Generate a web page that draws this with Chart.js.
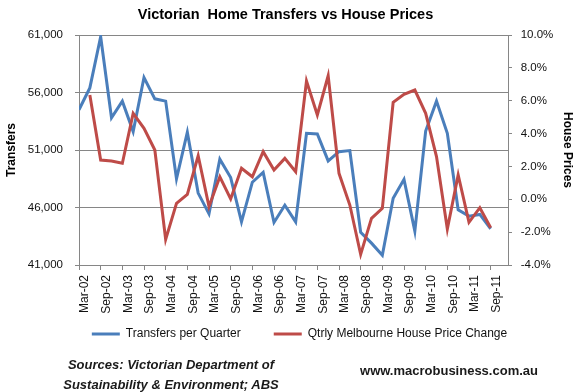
<!DOCTYPE html>
<html>
<head>
<meta charset="utf-8">
<script src="https://cdn.jsdelivr.net/npm/chart.js@4.4.0/dist/chart.umd.min.js"></script>
<style>
  html, body { margin: 0; padding: 0; background: #fff; }
  #wrap { position: relative; width: 585px; height: 392px; }
  #chart { position: absolute; left: 0; top: 0; }
  .note { position: absolute; font-family: "Liberation Sans", Arial, sans-serif; font-size: 13px; font-weight: bold; color: #1a1a1a; text-align: center; }
  #sources { left: 36px; top: 355px; width: 270px; line-height: 19.5px; font-style: italic; }
  #site { left: 339px; top: 362px; width: 220px; line-height: 17px; }
</style>
</head>
<body>
<div id="wrap">
  <canvas id="chart" width="585" height="392"></canvas>
  <div class="note" id="sources">Sources: Victorian Department of<br>Sustainability &amp; Environment; ABS</div>
  <div class="note" id="site">www.macrobusiness.com.au</div>
</div>
<script>
const quarters = [
  "Mar-02", "Jun-02", "Sep-02", "Dec-02", "Mar-03", "Jun-03", "Sep-03", "Dec-03",
  "Mar-04", "Jun-04", "Sep-04", "Dec-04", "Mar-05", "Jun-05", "Sep-05", "Dec-05",
  "Mar-06", "Jun-06", "Sep-06", "Dec-06", "Mar-07", "Jun-07", "Sep-07", "Dec-07",
  "Mar-08", "Jun-08", "Sep-08", "Dec-08", "Mar-09", "Jun-09", "Sep-09", "Dec-09",
  "Mar-10", "Jun-10", "Sep-10", "Dec-10", "Mar-11", "Jun-11", "Sep-11",
];

// transfers per quarter (left axis)
const transfers = [
  54500, 56400, 60850, 53800, 55250, 52600, 57300, 55450,
  55250, 48500, 52550, 47250, 45450, 50200, 48600, 44750,
  48200, 49050, 44700, 46200, 44750, 52450, 52400, 50050,
  50850, 50950, 43850, 42900, 41850, 46800, 48450, 43950,
  52650, 55250, 52450, 45800, 45250, 45400, 44150,
];

// quarterly Melbourne house price change, % (right axis)
const priceChange = [
  null, 6.35, 2.39, 2.33, 2.19, 5.23, 4.32, 3.0,
  -2.44, -0.25, 0.3, 2.65, -0.45, 1.37, 0.02, 1.89,
  1.37, 2.9, 1.78, 2.49, 1.68, 7.2, 5.13, 7.52,
  1.58, -0.35, -3.35, -1.16, -0.55, 5.9, 6.39, 6.65,
  5.23, 2.6, -1.81, 1.48, -1.4, -0.51, -1.73,
];

const transferTicks = [41000, 46000, 51000, 56000, 61000];
const priceTicks = [-4, -2, 0, 2, 4, 6, 8, 10];

const BLUE = "#4A7EBB";
const RED = "#BE4B48";
const GRID = "#868686";

Chart.defaults.font.family = "'Liberation Sans', Arial, sans-serif";
Chart.defaults.color = "#111";

function points(values) {
  return values.map((v, i) => ({ x: i, y: v }));
}

function fixedTicks(values) {
  return (scale) => {
    scale.ticks = values.map((v) => ({ value: v }));
  };
}

const evenQuarters = quarters.map((_, i) => i).filter((i) => i % 2 === 0);

// nudge title and legend to where Excel put them
const nudgeBoxes = {
  id: "nudgeBoxes",
  afterLayout(chart) {
    const legend = chart.legend;
    legend.top -= 25;
    legend.bottom -= 25;
    legend.left += 7;
    legend.right += 7;
    const title = chart.titleBlock;
    title.left -= 7;
    title.right -= 7;
  },
};

new Chart(document.getElementById("chart"), {
  type: "line",
  data: {
    datasets: [
      {
        label: "Qtrly Melbourne House Price Change",
        data: points(priceChange),
        yAxisID: "yPrice",
        borderColor: RED,
        backgroundColor: RED,
        borderWidth: 3,
        pointRadius: 0,
        tension: 0,
      },
      {
        label: "Transfers per Quarter",
        data: points(transfers),
        yAxisID: "yTransfers",
        borderColor: BLUE,
        backgroundColor: BLUE,
        borderWidth: 3,
        pointRadius: 0,
        tension: 0,
      },
    ],
  },
  plugins: [nudgeBoxes],
  options: {
    responsive: false,
    animation: false,
    layout: { padding: { left: 0, right: 0, top: 0, bottom: 17 } },
    plugins: {
      tooltip: { enabled: false },
      title: {
        display: true,
        text: "Victorian  Home Transfers vs House Prices",
        color: "#000",
        font: { size: 14.5, weight: "bold" },
        padding: { top: 6, bottom: 11.6 },
      },
      legend: {
        position: "bottom",
        reverse: true,
        labels: {
          boxWidth: 28,
          boxHeight: 3,
          padding: 33,
          color: "#111",
          font: { size: 12 },
          generateLabels: (chart) =>
            Chart.defaults.plugins.legend.labels.generateLabels(chart).map((l) => ({
              ...l,
              fillStyle: l.strokeStyle,
              lineWidth: 0,
            })),
        },
      },
    },
    scales: {
      x: {
        type: "linear",
        min: 0,
        max: 39.6,
        afterBuildTicks: fixedTicks(evenQuarters),
        afterFit: (s) => { s.height = 55; },
        grid: { drawOnChartArea: false, color: GRID, tickLength: 5 },
        border: { color: GRID },
        ticks: {
          autoSkip: false,
          minRotation: 90,
          maxRotation: 90,
          padding: 5,
          labelOffset: 6,
          font: { size: 12 },
          callback: (v) => quarters[v],
        },
      },
      yTransfers: {
        position: "left",
        min: 41000,
        max: 61000,
        afterBuildTicks: fixedTicks(transferTicks),
        afterFit: (s) => { s.width = 79; },
        grid: { color: GRID, tickLength: 4 },
        border: { color: GRID },
        ticks: {
          padding: 12,
          font: { size: 11.5 },
          callback: (v) => v.toLocaleString("en-US"),
        },
        title: {
          display: true,
          text: "Transfers",
          color: "#000",
          font: { size: 12, weight: "bold" },
          padding: { top: 4.5, bottom: 0 },
        },
      },
      yPrice: {
        position: "right",
        min: -4,
        max: 10,
        afterBuildTicks: fixedTicks(priceTicks),
        afterFit: (s) => { s.width = 77; },
        grid: { drawOnChartArea: false, color: GRID, tickLength: 4 },
        border: { color: GRID },
        ticks: {
          padding: 8.7,
          font: { size: 11.5 },
          callback: (v) => v.toFixed(1) + "%",
        },
        title: {
          display: true,
          text: "House Prices",
          color: "#000",
          font: { size: 12, weight: "bold" },
          padding: { top: 10, bottom: 0 },
        },
      },
    },
  },
});
</script>
</body>
</html>
